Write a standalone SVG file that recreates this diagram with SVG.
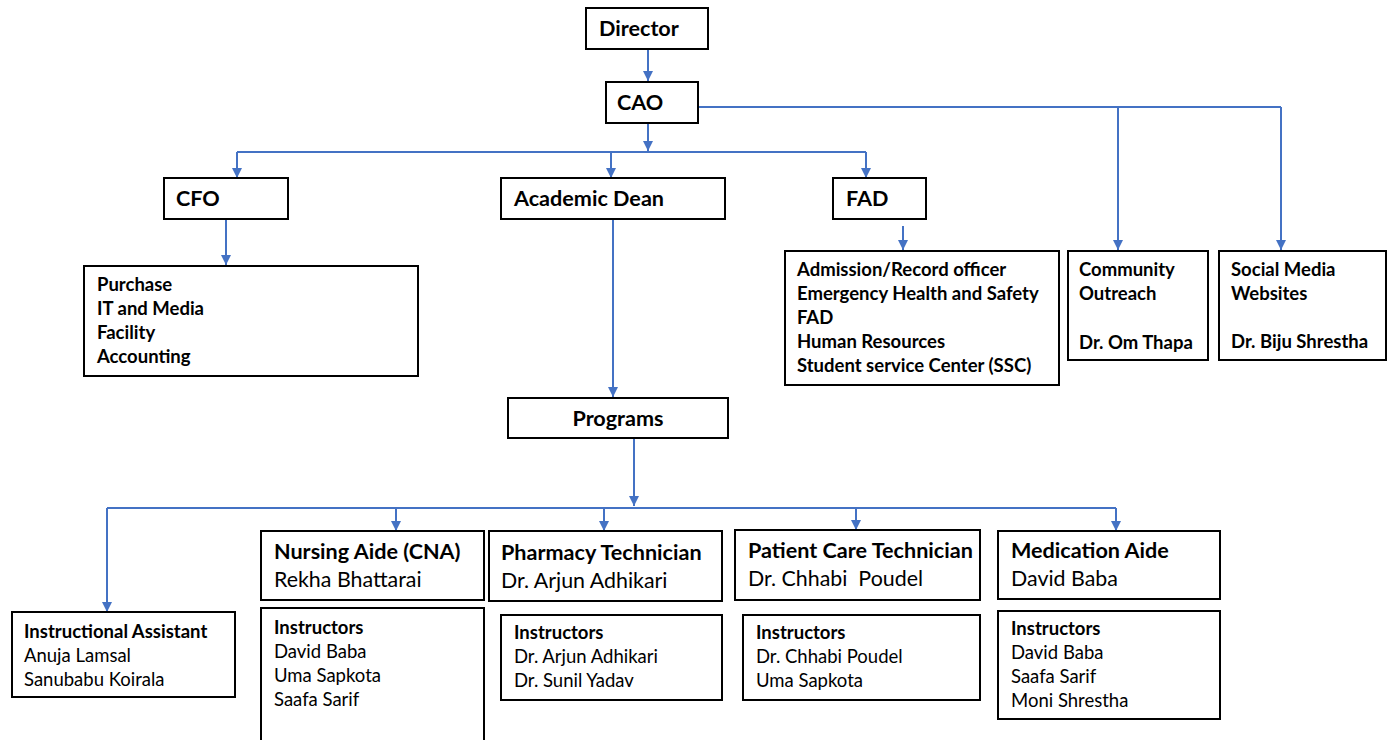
<svg xmlns="http://www.w3.org/2000/svg" width="1394" height="740" viewBox="0 0 1394 740">
<defs>
<marker id="ah" markerUnits="userSpaceOnUse" markerWidth="12" markerHeight="12" viewBox="0 0 12 12" refX="11" refY="6" orient="auto">
<path d="M1,1 L11,6 L1,11 Z" fill="#4472C4"/>
</marker>
</defs>
<style>
.box{fill:#fff;stroke:#000;stroke-width:2}
.ln{fill:none;stroke:#4472C4;stroke-width:2}
.ar{fill:none;stroke:#4472C4;stroke-width:2;marker-end:url(#ah)}
text{font-family:Lato,"Open Sans","Liberation Sans",sans-serif;fill:#000}
.h{font-size:21.6px;font-weight:bold}
.b{font-size:18.5px;font-weight:bold}
.r{font-size:18.5px}
.rn{font-size:21.4px}
</style>
<g id="connectors">
<line class="ar" x1="648" y1="49" x2="648" y2="81"/>
<line class="ar" x1="648" y1="123" x2="648" y2="151"/>
<polyline class="ln" points="237,152 866,152"/>
<line class="ar" x1="237" y1="152" x2="237" y2="178"/>
<line class="ar" x1="611" y1="152" x2="611" y2="178"/>
<line class="ar" x1="866" y1="152" x2="866" y2="178"/>
<polyline class="ln" points="698,107 1281,107"/>
<line class="ar" x1="1118" y1="107" x2="1118" y2="250"/>
<line class="ar" x1="1281" y1="107" x2="1281" y2="250"/>
<line class="ar" x1="226" y1="219" x2="226" y2="265"/>
<line class="ar" x1="903" y1="226" x2="903" y2="250"/>
<line class="ar" x1="613" y1="219" x2="613" y2="397"/>
<line class="ar" x1="634" y1="438" x2="634" y2="506"/>
<polyline class="ln" points="107,508 1116,508"/>
<line class="ar" x1="107" y1="508" x2="107" y2="612"/>
<line class="ar" x1="396" y1="508" x2="396" y2="531"/>
<line class="ar" x1="604" y1="508" x2="604" y2="531"/>
<line class="ar" x1="856" y1="508" x2="856" y2="530"/>
<line class="ar" x1="1116" y1="508" x2="1116" y2="531"/>
</g>
<g id="director"><rect class="box" x="586" y="8" width="122" height="41"/><text class="h" x="599" y="36">Director</text></g>
<g id="cao"><rect class="box" x="606" y="82" width="92" height="41"/><text class="h" x="617" y="110">CAO</text></g>
<g id="cfo"><rect class="box" x="164" y="178" width="124" height="41"/><text class="h" x="176" y="206">CFO</text></g>
<g id="dean"><rect class="box" x="501" y="178" width="224" height="41"/><text class="h" x="514" y="206">Academic Dean</text></g>
<g id="fad"><rect class="box" x="833" y="178" width="93" height="41"/><text class="h" x="846" y="206">FAD</text></g>
<g id="cfo-units"><rect class="box" x="84" y="266" width="334" height="110"/>
<text class="b" x="97" y="291">Purchase</text><text class="b" x="97" y="315">IT and Media</text><text class="b" x="97" y="339">Facility</text><text class="b" x="97" y="363">Accounting</text></g>
<g id="fad-units"><rect class="box" x="785" y="251" width="274" height="134"/>
<text class="b" x="797" y="276">Admission/Record officer</text><text class="b" x="797" y="300">Emergency Health and Safety</text><text class="b" x="797" y="324">FAD</text><text class="b" x="797" y="348">Human Resources</text><text class="b" x="797" y="372">Student service Center (SSC)</text></g>
<g id="community"><rect class="box" x="1068" y="251" width="140" height="109"/>
<text class="b" x="1079" y="276">Community</text><text class="b" x="1079" y="300">Outreach</text><text class="b" x="1079" y="349">Dr. Om Thapa</text></g>
<g id="social"><rect class="box" x="1219" y="251" width="167" height="109"/>
<text class="b" x="1231" y="276">Social Media</text><text class="b" x="1231" y="300">Websites</text><text class="b" x="1231" y="348">Dr. Biju Shrestha</text></g>
<g id="programs"><rect class="box" x="508" y="398" width="220" height="40"/><text class="h" x="618" y="426" text-anchor="middle">Programs</text></g>
<g id="instructional-assistant"><rect class="box" x="12" y="612" width="223" height="85"/>
<text class="b" x="24" y="638">Instructional Assistant</text><text class="r" x="24" y="662">Anuja Lamsal</text><text class="r" x="24" y="686">Sanubabu Koirala</text></g>
<g id="nursing"><rect class="box" x="261" y="531" width="223" height="69"/>
<text class="h" x="274" y="559">Nursing Aide (CNA)</text><text class="rn" x="274" y="587">Rekha Bhattarai</text></g>
<g id="nursing-instructors"><rect class="box" x="261" y="608" width="223" height="140"/>
<text class="b" x="274" y="634">Instructors</text><text class="r" x="274" y="658">David Baba</text><text class="r" x="274" y="682">Uma Sapkota</text><text class="r" x="274" y="706">Saafa Sarif</text></g>
<g id="pharmacy"><rect class="box" x="489" y="531" width="233" height="70"/>
<text class="h" x="501" y="560">Pharmacy Technician</text><text class="rn" x="501" y="588">Dr. Arjun Adhikari</text></g>
<g id="pharmacy-instructors"><rect class="box" x="501" y="615" width="221" height="85"/>
<text class="b" x="514" y="639">Instructors</text><text class="r" x="514" y="663">Dr. Arjun Adhikari</text><text class="r" x="514" y="687">Dr. Sunil Yadav</text></g>
<g id="patient-care"><rect class="box" x="735" y="530" width="245" height="70"/>
<text class="h" x="748" y="558">Patient Care Technician</text><text class="rn" x="748" y="586" xml:space="preserve">Dr. Chhabi  Poudel</text></g>
<g id="patient-care-instructors"><rect class="box" x="743" y="615" width="237" height="85"/>
<text class="b" x="756" y="639">Instructors</text><text class="r" x="756" y="663">Dr. Chhabi Poudel</text><text class="r" x="756" y="687">Uma Sapkota</text></g>
<g id="medication"><rect class="box" x="998" y="531" width="222" height="68"/>
<text class="h" x="1011" y="558">Medication Aide</text><text class="rn" x="1011" y="586">David Baba</text></g>
<g id="medication-instructors"><rect class="box" x="998" y="611" width="222" height="108"/>
<text class="b" x="1011" y="635">Instructors</text><text class="r" x="1011" y="659">David Baba</text><text class="r" x="1011" y="683">Saafa Sarif</text><text class="r" x="1011" y="707">Moni Shrestha</text></g>
</svg>
